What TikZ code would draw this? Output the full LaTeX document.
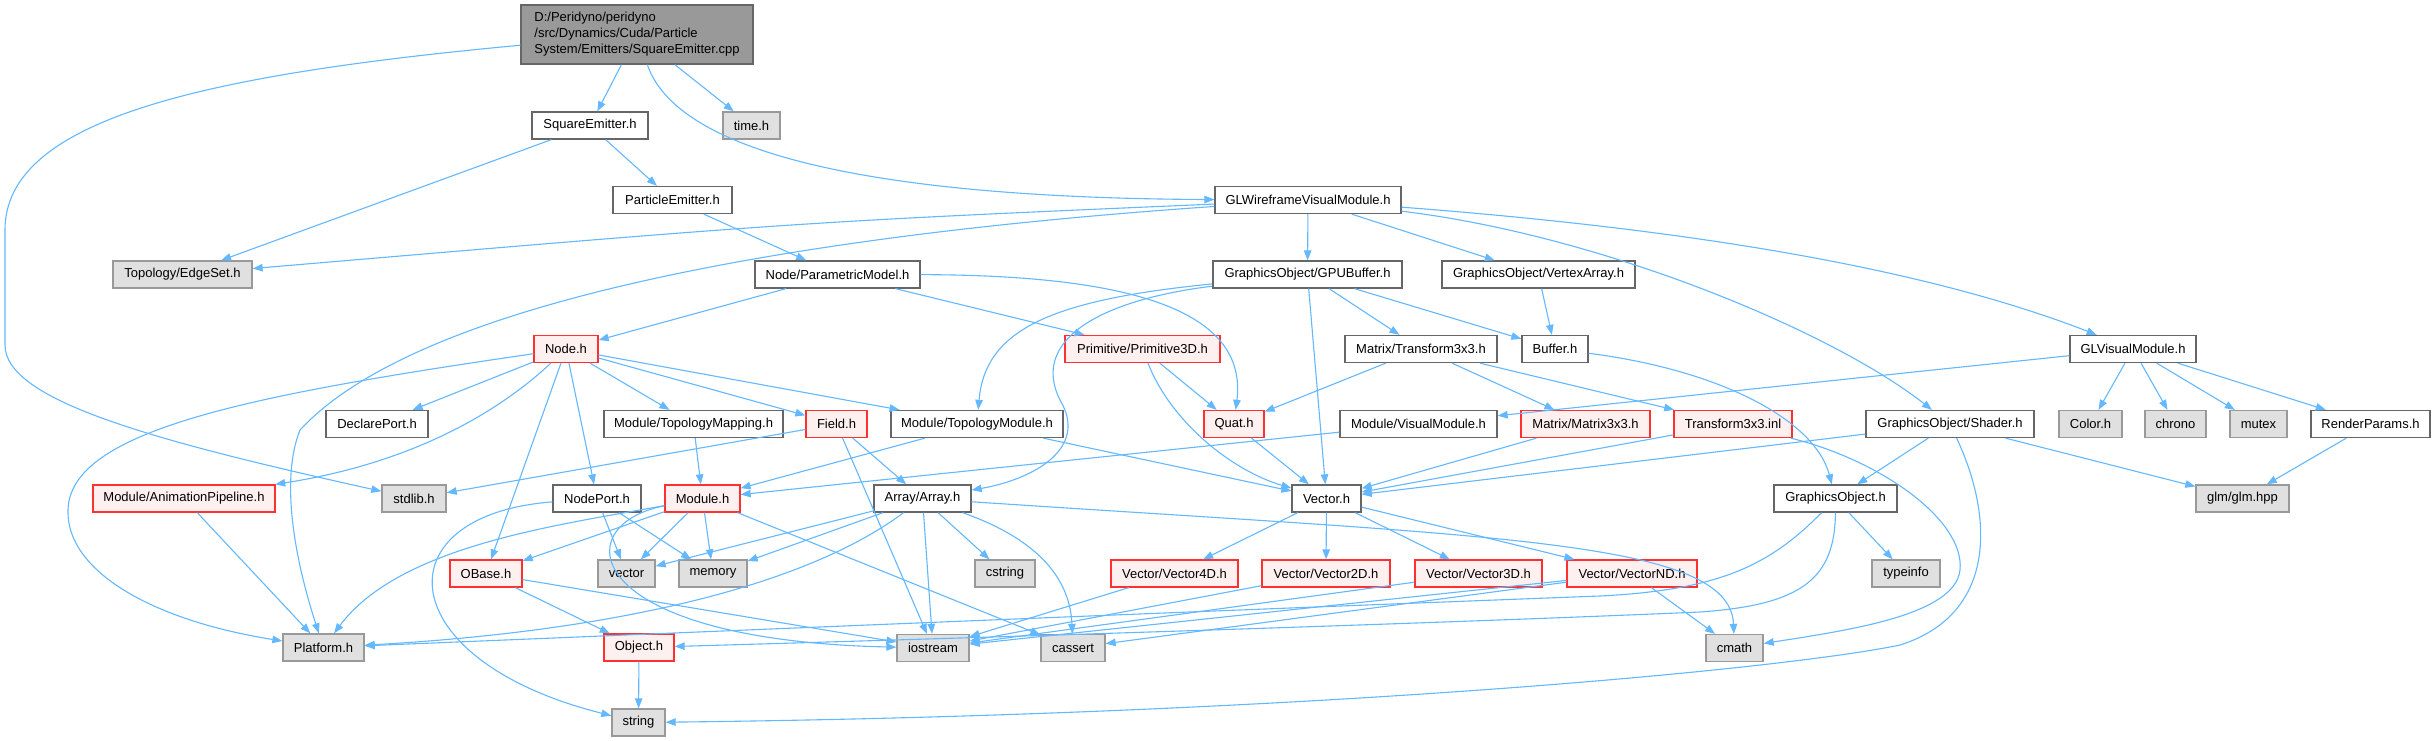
\documentclass[tikz,border=0pt]{standalone}
\usepackage{fontspec}
\setmainfont{Liberation Sans}
\usetikzlibrary{arrows.meta}
\newcommand\dxfont{\fontsize{13}{16}\selectfont}
\definecolor{edgeblue}{HTML}{63B8FF}
\definecolor{wborder}{HTML}{666666}
\definecolor{gfill}{HTML}{E0E0E0}
\definecolor{gborder}{HTML}{999999}
\definecolor{rfill}{HTML}{FFF0F0}
\definecolor{rborder}{HTML}{FF3030}
\definecolor{mainfill}{HTML}{999999}
\tikzset{
  bx/.style={draw, line width=1.3pt, inner sep=0pt, minimum height=27pt, font=\dxfont, text=black},
  wbox/.style={bx, fill=white, draw=wborder},
  gbox/.style={bx, fill=gfill, draw=gborder},
  rbox/.style={bx, fill=rfill, draw=rborder},
  mainbox/.style={bx, fill=mainfill, draw=wborder, minimum height=59pt, align=left},
  e/.style={draw=edgeblue, line width=1.1pt, -{Triangle[length=10pt,width=7.5pt]}}
}
\begin{document}
\begin{tikzpicture}[x=1pt,y=-1pt]
\fill[white] (0,0) rectangle (2436,741);
\useasboundingbox (0,0) rectangle (2436,741);

% nodes
\node[mainbox, minimum width=232pt] (main) at (637,34.5) {D:/Peridyno/peridyno\\/src/Dynamics/Cuda/Particle\\System/Emitters/SquareEmitter.cpp};
\node[wbox, minimum width=116pt] (sqh) at (590,125.5) {SquareEmitter.h};
\node[gbox, minimum width=57pt] (timeh) at (751.5,125.5) {time.h};
\node[wbox, minimum width=119pt] (pe) at (672.5,200) {ParticleEmitter.h};
\node[wbox, minimum width=186pt] (glw) at (1308,200) {GLWireframeVisualModule.h};
\node[gbox, minimum width=139pt] (eset) at (182.5,274.5) {Topology/EdgeSet.h};
\node[wbox, minimum width=165pt] (pm) at (837.5,274.5) {Node/ParametricModel.h};
\node[wbox, minimum width=189pt] (gpu) at (1307.5,274.5) {GraphicsObject/GPUBuffer.h};
\node[wbox, minimum width=193pt] (va) at (1538.5,274.5) {GraphicsObject/VertexArray.h};
\node[rbox, minimum width=64pt] (nodeh) at (566,349) {Node.h};
\node[rbox, minimum width=155pt] (prim) at (1142.5,349) {Primitive/Primitive3D.h};
\node[wbox, minimum width=152pt] (tr) at (1421,349) {Matrix/Transform3x3.h};
\node[wbox, minimum width=66pt] (buf) at (1555,349) {Buffer.h};
\node[wbox, minimum width=126pt] (glv) at (2133,349) {GLVisualModule.h};
\node[wbox, minimum width=102pt] (decl) at (377,424) {DeclarePort.h};
\node[wbox, minimum width=179pt] (tmap) at (693.5,424) {Module/TopologyMapping.h};
\node[rbox, minimum width=61pt] (field) at (836.5,424) {Field.h};
\node[wbox, minimum width=172pt] (topm) at (977,424) {Module/TopologyModule.h};
\node[rbox, minimum width=60pt] (quat) at (1234,424) {Quat.h};
\node[wbox, minimum width=157pt] (vism) at (1418.5,424) {Module/VisualModule.h};
\node[rbox, minimum width=129pt] (m33) at (1585.5,424) {Matrix/Matrix3x3.h};
\node[rbox, minimum width=118pt] (tinl) at (1733,424) {Transform3x3.inl};
\node[wbox, minimum width=168pt] (shader) at (1950,424) {GraphicsObject/Shader.h};
\node[gbox, minimum width=63pt] (color) at (2090.5,424) {Color.h};
\node[gbox, minimum width=61pt] (chrono) at (2175.5,424) {chrono};
\node[gbox, minimum width=57pt] (mutex) at (2258.5,424) {mutex};
\node[wbox, minimum width=119pt] (rp) at (2370.5,424) {RenderParams.h};
\node[rbox, minimum width=182pt] (anim) at (184,498.5) {Module/AnimationPipeline.h};
\node[gbox, minimum width=64pt] (stdlib) at (414,498.5) {stdlib.h};
\node[wbox, minimum width=88pt] (np) at (597,498.5) {NodePort.h};
\node[rbox, minimum width=75pt] (mod) at (702.5,498.5) {Module.h};
\node[wbox, minimum width=97pt] (arr) at (922.5,498.5) {Array/Array.h};
\node[wbox, minimum width=69pt] (vec) at (1326.5,498.5) {Vector.h};
\node[wbox, minimum width=123pt] (go) at (1835.5,498.5) {GraphicsObject.h};
\node[gbox, minimum width=93pt] (glm) at (2242.5,498.5) {glm/glm.hpp};
\node[rbox, minimum width=72pt] (obase) at (486,573.5) {OBase.h};
\node[gbox, minimum width=57pt] (vectorh) at (626.5,573.5) {vector};
\node[gbox, minimum width=68pt] (memory) at (713,573.5) {memory};
\node[gbox, minimum width=60pt] (cstring) at (1005,573.5) {cstring};
\node[rbox, minimum width=127pt] (v4) at (1174.5,573.5) {Vector/Vector4D.h};
\node[rbox, minimum width=128pt] (v2) at (1326,573.5) {Vector/Vector2D.h};
\node[rbox, minimum width=127pt] (v3) at (1478.5,573.5) {Vector/Vector3D.h};
\node[rbox, minimum width=130pt] (vnd) at (1632,573.5) {Vector/VectorND.h};
\node[gbox, minimum width=68pt] (typeinfo) at (1906,573.5) {typeinfo};
\node[gbox, minimum width=81pt] (platform) at (323.5,647.5) {Platform.h};
\node[rbox, minimum width=70pt] (object) at (639,647.5) {Object.h};
\node[gbox, minimum width=72pt] (iostream) at (933,648) {iostream};
\node[gbox, minimum width=64pt] (cassert) at (1073,648) {cassert};
\node[gbox, minimum width=57pt] (cmath) at (1734.5,648) {cmath};
\node[gbox, minimum width=53pt] (string) at (638.5,722.5) {string};

% edges from main
\draw[e] (main) .. controls (200,75) and (5,120) .. (5,230) -- (5,345) .. controls (5,400) and (150,440) .. (stdlib);
\draw[e] (main) -- (sqh);
\draw[e] (main) -- (timeh);
\draw[e] (main) .. controls (680,160) and (900,198) .. (glw);
% SquareEmitter / ParticleEmitter
\draw[e] (sqh) -- (eset);
\draw[e] (sqh) -- (pe);
\draw[e] (pe) -- (pm);
% GLWireframeVisualModule
\draw[e] (glw) .. controls (800,222) .. (eset);
\draw[e] (glw) .. controls (800,235) and (420,300) .. (300,430) .. controls (280,480) and (295,560) .. (platform);
\draw[e] (glw) -- (gpu);
\draw[e] (glw) -- (va);
\draw[e] (glw) .. controls (1600,235) and (1830,330) .. (shader);
\draw[e] (glw) .. controls (1700,230) and (1930,270) .. (glv);
% ParametricModel
\draw[e] (pm) -- (nodeh);
\draw[e] (pm) -- (prim);
\draw[e] (pm) .. controls (1130,275) and (1248,310) .. (quat);
% GPUBuffer
\draw[e] (gpu) .. controls (1050,300) and (985,330) .. (topm);
\draw[e] (gpu) .. controls (1100,300) and (1030,340) .. (1060,400) .. controls (1090,450) and (1030,480) .. (arr);
\draw[e] (gpu) -- (vec);
\draw[e] (gpu) -- (tr);
\draw[e] (gpu) -- (buf);
\draw[e] (va) -- (buf);
% Node.h
\draw[e] (nodeh) .. controls (250,395) and (70,430) .. (68,510) .. controls (66,570) and (150,620) .. (platform);
\draw[e] (nodeh) -- (decl);
\draw[e] (nodeh) .. controls (490,420) and (400,465) .. (anim);
\draw[e] (nodeh) -- (obase);
\draw[e] (nodeh) -- (np);
\draw[e] (nodeh) -- (tmap);
\draw[e] (nodeh) -- (field);
\draw[e] (nodeh) -- (topm);
% Primitive3D, Transform3x3, Buffer
\draw[e] (prim) -- (quat);
\draw[e] (prim) .. controls (1170,420) and (1230,470) .. (vec);
\draw[e] (tr) -- (quat);
\draw[e] (tr) -- (m33);
\draw[e] (tr) -- (tinl);
\draw[e] (buf) .. controls (1720,370) and (1815,420) .. (go);
% GLVisualModule
\draw[e] (glv) -- (vism);
\draw[e] (glv) -- (color);
\draw[e] (glv) -- (chrono);
\draw[e] (glv) -- (mutex);
\draw[e] (glv) -- (rp);
\draw[e] (rp) -- (glm);
% row 3 modules
\draw[e] (tmap) -- (mod);
\draw[e] (field) -- (stdlib);
\draw[e] (field) -- (arr);
\draw[e] (field) -- (iostream);
\draw[e] (topm) -- (mod);
\draw[e] (topm) -- (vec);
\draw[e] (quat) -- (vec);
\draw[e] (vism) -- (mod);
\draw[e] (m33) -- (vec);
\draw[e] (tinl) -- (vec);
\draw[e] (tinl) .. controls (1880,460) and (1965,520) .. (1960,570) .. controls (1955,615) and (1850,630) .. (cmath);
% Shader
\draw[e] (shader) -- (vec);
\draw[e] (shader) -- (go);
\draw[e] (shader) -- (glm);
\draw[e] (shader) .. controls (1995,520) and (1995,615) .. (1900,645) .. controls (1780,670) and (1300,715) .. (string);
% AnimationPipeline, NodePort, Module
\draw[e] (anim) -- (platform);
\draw[e] (np) .. controls (380,515) and (390,660) .. (string);
\draw[e] (np) -- (vectorh);
\draw[e] (np) -- (memory);
\draw[e] (mod) .. controls (560,525) and (400,545) .. (platform);
\draw[e] (mod) -- (obase);
\draw[e] (mod) -- (vectorh);
\draw[e] (mod) -- (memory);
\draw[e] (mod) .. controls (565,525) and (580,640) .. (iostream);
\draw[e] (mod) -- (cassert);
% Array
\draw[e] (arr) -- (vectorh);
\draw[e] (arr) -- (memory);
\draw[e] (arr) -- (cstring);
\draw[e] (arr) -- (iostream);
\draw[e] (arr) .. controls (1040,540) and (1070,580) .. (cassert);
\draw[e] (arr) .. controls (1500,537) and (1730,540) .. (cmath);
\draw[e] (arr) .. controls (800,590) and (600,632) .. (platform);
% Vector
\draw[e] (vec) -- (v4);
\draw[e] (vec) -- (v2);
\draw[e] (vec) -- (v3);
\draw[e] (vec) -- (vnd);
\draw[e] (v4) -- (iostream);
\draw[e] (v2) -- (iostream);
\draw[e] (v3) -- (iostream);
\draw[e] (vnd) -- (iostream);
\draw[e] (vnd) -- (cassert);
\draw[e] (vnd) -- (cmath);
% GraphicsObject
\draw[e] (go) -- (typeinfo);
\draw[e] (go) .. controls (1770,565) and (1720,590) .. (1600,596) .. controls (1100,615) and (700,632) .. (platform);
\draw[e] (go) .. controls (1835,580) and (1800,605) .. (1700,612) .. controls (1400,625) and (900,640) .. (object);
% OBase, Object
\draw[e] (obase) -- (object);
\draw[e] (obase) -- (iostream);
\draw[e] (object) -- (string);
\end{tikzpicture}
\end{document}
